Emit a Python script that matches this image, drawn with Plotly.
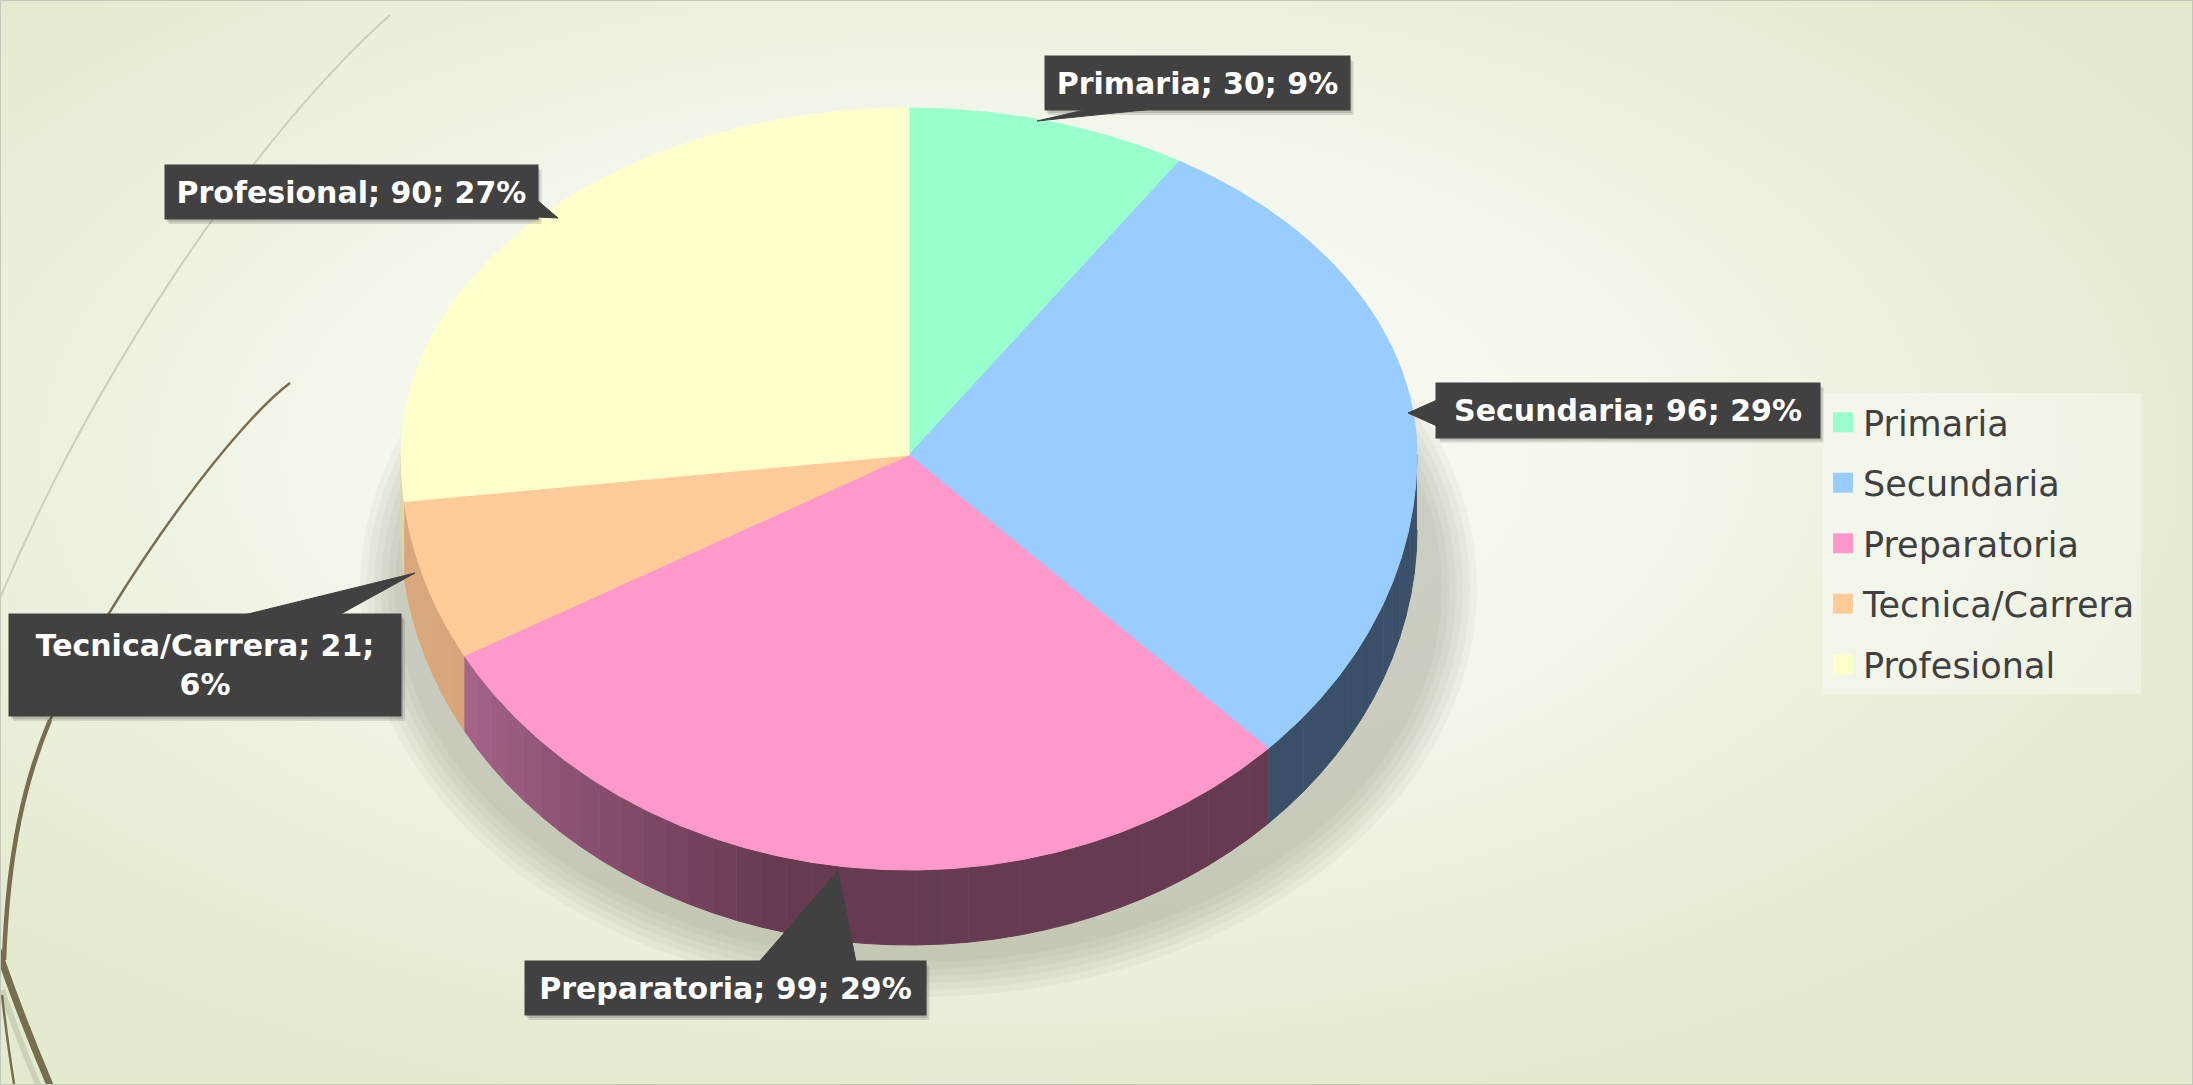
import math
import base64
import plotly.graph_objects as go

# ---------------- data ----------------
categories = ["Primaria", "Secundaria", "Preparatoria", "Tecnica/Carrera", "Profesional"]
values = [30, 96, 99, 21, 90]

# ---------------- styles ----------------
top_colors = ["#99FFCC", "#99CCFF", "#FF99CC", "#FFCC99", "#FFFFCC"]
side_dark = ["#4A8A6A", "#3A5068", "#663A50", "#C99668", "#D2D2A0"]
side_light = ["#4A8A6A", "#3A5068", "#B46C96", "#D9A77C", "#D8D8A8"]

W, H = 2193, 1085
CX, CY = 909, 455
RX, RY_TOP, RY_BOT = 508, 347, 415
DEPTH = 75
FONT_LBL = "DejaVu Sans"
BOX_BG = "#414141"

# label boxes: (center x, center y, width, height) and pointer polygons (base1, base2, tip)
label_boxes = [
    (1197, 83, 305, 54),
    (1628, 410, 384, 55),
    (725, 988, 401, 54),
    (205, 665, 392, 102),
    (351, 192, 373, 54),
]
pointers = [
    [(1093, 108), (1163, 108), (1037, 121)],
    [(1437, 400), (1437, 426), (1408, 413)],
    [(759, 962), (856, 962), (838, 871)],
    [(240, 616), (337, 616), (415, 573)],
    [(537, 200), (537, 217), (558, 218)],
]


def edge(theta_deg, dy=0.0):
    t = math.radians(theta_deg)
    c = math.cos(t)
    ry = RY_TOP if c >= 0 else RY_BOT
    return CX + RX * math.sin(t), CY - ry * c + dy


def angles(a, b, step=1.0):
    n = max(2, int(math.ceil((b - a) / step)) + 1)
    return [a + (b - a) * k / (n - 1) for k in range(n)]


def hex2rgb(h):
    h = h.lstrip("#")
    return tuple(int(h[i:i + 2], 16) for i in (0, 2, 4))


def lerp_col(c1, c2, f):
    a, b = hex2rgb(c1), hex2rgb(c2)
    return "rgb(%d,%d,%d)" % tuple(round(a[i] + (b[i] - a[i]) * f) for i in range(3))


total = sum(values)
pcts = [round(v * 100 / total) for v in values]
bounds = []
acc = 0
for v in values:
    a = acc / total * 360
    acc += v
    bounds.append((a, acc / total * 360))

fig = go.Figure()

# ---- sides (visible front half: 90..270 deg) ----
for i, (a, b) in enumerate(bounds):
    lo, hi = max(a, 90), min(b, 270)
    if hi <= lo:
        continue
    strips = angles(lo, hi, 3.0)
    for s0, s1 in zip(strips[:-1], strips[1:]):
        mid = (s0 + s1) / 2
        f = min(1.0, max(0.0, (mid - 195) / (250 - 195)))
        col = lerp_col(side_dark[i], side_light[i], f)
        th = angles(s0, s1, 1.0)
        xs, ys = [], []
        for t in th:
            x, y = edge(t)
            xs.append(x); ys.append(y)
        for t in reversed(th):
            x, y = edge(t, DEPTH)
            xs.append(x); ys.append(y)
        fig.add_trace(go.Scatter(
            x=xs, y=ys, fill="toself", mode="lines",
            fillcolor=col, line=dict(color=col, width=1),
            hoverinfo="skip", showlegend=False, legendgroup=categories[i]))

# ---- top faces ----
for i, (a, b) in enumerate(bounds):
    xs, ys = [CX], [CY]
    for t in angles(a, b, 0.5):
        x, y = edge(t)
        xs.append(x); ys.append(y)
    xs.append(CX); ys.append(CY)
    fig.add_trace(go.Scatter(
        x=xs, y=ys, fill="toself", mode="lines",
        fillcolor=top_colors[i], line=dict(color=top_colors[i], width=1),
        name=categories[i], legendgroup=categories[i], showlegend=False,
        text=f"{categories[i]}; {values[i]}; {pcts[i]}%", hoverinfo="text"))

# ---- legend entries ----
for i, c in enumerate(categories):
    fig.add_trace(go.Scatter(
        x=[None], y=[None], mode="markers", name=c, legendgroup=c,
        marker=dict(symbol="square", size=16, color=top_colors[i],
                    line=dict(color=top_colors[i], width=4))))

shapes = []
# pie shadow (soft, layered)
for k in range(6):
    g = k * 7
    shapes.append(dict(type="circle", xref="x", yref="y", layer="below",
                       x0=395 - g, x1=1442 + g, y0=215 - g, y1=962 + g,
                       fillcolor="rgba(90,90,80,0.05)", line=dict(width=0)))

# decorative curves
curve_style = [
    ("M 390,15 C 250,140 90,380 -5,610", "#CBD0B8", 2),
    ("M 290,383 C 240,420 130,560 50,720", "#776D50", 2.5),
    ("M 50,720 C 25,780 8,850 4,960", "#776D50", 4.5),
    ("M 2,990 C 15,1030 28,1060 40,1090", "#CDD2B6", 6),
    ("M -2,950 C 15,1000 35,1050 52,1090", "#776D50", 7),
    ("M 2,995 C 6,1030 10,1060 15,1090", "#776D50", 2.5),
]
for p, col, wdt in curve_style:
    shapes.append(dict(type="path", xref="x", yref="y", layer="below",
                       path=p, line=dict(color=col, width=wdt)))

# label box shadows and pointers
annotations = []
for i, (bx, by, bw, bh) in enumerate(label_boxes):
    for k, op in enumerate([0.12, 0.12]):
        o = 2 + 2 * k
        shapes.append(dict(type="rect", xref="x", yref="y", layer="above",
                           x0=bx - bw / 2 + o, x1=bx + bw / 2 + o,
                           y0=by - bh / 2 + o + 1, y1=by + bh / 2 + o + 1,
                           fillcolor=f"rgba(0,0,0,{op})", line=dict(width=0)))
    p = pointers[i]
    path = "M {},{} L {},{} L {},{} Z".format(p[0][0], p[0][1], p[2][0], p[2][1], p[1][0], p[1][1])
    shapes.append(dict(type="path", xref="x", yref="y", layer="above", path=path,
                       fillcolor=BOX_BG, line=dict(color=BOX_BG, width=1)))
    txt = f"{categories[i]}; {values[i]}; {pcts[i]}%"
    if categories[i] == "Tecnica/Carrera":
        txt = f"{categories[i]}; {values[i]};<br>{pcts[i]}%"
    annotations.append(dict(
        xref="x", yref="y", x=bx, y=by, xanchor="center", yanchor="middle",
        text=f"<b>{txt}</b>", showarrow=False, width=bw, height=bh,
        bgcolor=BOX_BG, borderpad=0, align="center", valign="middle",
        font=dict(family=FONT_LBL, size=30, color="#FFFFFF")))

# frame
shapes.append(dict(type="rect", xref="paper", yref="paper", x0=0, x1=1, y0=0, y1=1,
                   layer="above", line=dict(color="#C4C8B8", width=2)))

svg = ('<svg xmlns="http://www.w3.org/2000/svg" width="2193" height="1085">'
       '<defs><radialGradient id="g" cx="0.45" cy="0.42" r="0.62">'
       '<stop offset="0" stop-color="#FCFDFA"/>'
       '<stop offset="0.45" stop-color="#F4F7EC"/>'
       '<stop offset="1" stop-color="#E3EACE"/>'
       '</radialGradient></defs>'
       '<rect width="2193" height="1085" fill="url(#g)"/></svg>')
bg_src = "data:image/svg+xml;base64," + base64.b64encode(svg.encode()).decode()

fig.update_layout(
    width=W, height=H,
    margin=dict(l=0, r=0, t=0, b=0),
    paper_bgcolor="#EEF2E2",
    plot_bgcolor="rgba(0,0,0,0)",
    xaxis=dict(range=[0, W], visible=False, fixedrange=True),
    yaxis=dict(range=[H, 0], visible=False, fixedrange=True),
    images=[dict(source=bg_src, xref="paper", yref="paper", x=0, y=1,
                 sizex=1, sizey=1, sizing="stretch", layer="below")],
    shapes=shapes,
    annotations=annotations,
    showlegend=True,
    legend=dict(x=1823 / W, y=1 - 393 / H, xanchor="left", yanchor="top",
                bgcolor="rgba(255,255,255,0.35)", borderwidth=0,
                font=dict(family="DejaVu Sans", size=35, color="#404040"),
                tracegroupgap=12, itemclick=False, itemdoubleclick=False),
)

fig.write_html("out.html",
               config={"displayModeBar": False},
               post_script="document.body.style.margin='0px';document.body.style.overflow='hidden';")
